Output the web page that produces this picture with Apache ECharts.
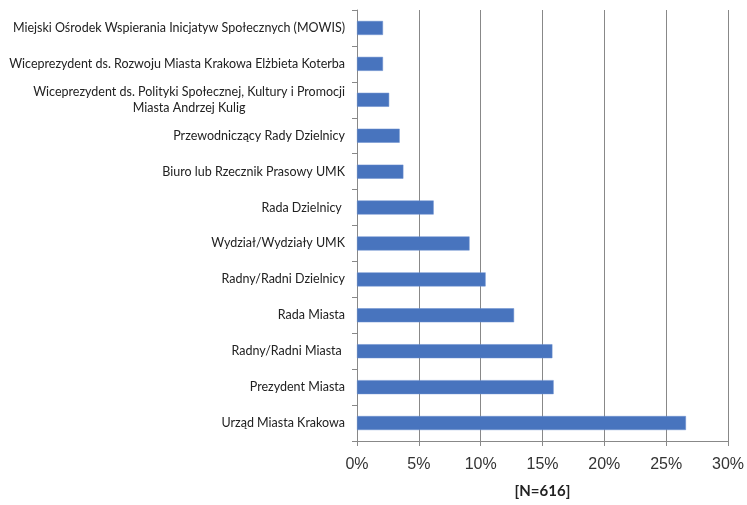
<!DOCTYPE html>
<html>
<head>
<meta charset="utf-8">
<script src="https://cdn.jsdelivr.net/npm/echarts@6/dist/echarts.min.js"></script>
<style>html,body{margin:0;padding:0;background:#fff}#c{width:747px;height:505px}</style>
</head>
<body>
<div id="c"></div>
<script>
var categories = [
  'Miejski Ośrodek Wspierania Inicjatyw Społecznych (MOWIS)',
  'Wiceprezydent ds. Rozwoju Miasta Krakowa Elżbieta Koterba',
  'Wiceprezydent ds. Polityki Społecznej, Kultury i Promocji\nMiasta Andrzej Kulig',
  'Przewodniczący Rady Dzielnicy',
  'Biuro lub Rzecznik Prasowy UMK',
  'Rada Dzielnicy ',
  'Wydział/Wydziały UMK',
  'Radny/Radni Dzielnicy',
  'Rada Miasta',
  'Radny/Radni Miasta ',
  'Prezydent Miasta',
  'Urząd Miasta Krakowa'
];
var values = [2.1, 2.1, 2.6, 3.45, 3.75, 6.2, 9.1, 10.4, 12.7, 15.8, 15.9, 26.6];
var axisName = '[N=616]';

var chart = echarts.init(document.getElementById('c'));
chart.setOption({
  animation: false,
  grid: {left: 357, right: 19, top: 10, bottom: 64, containLabel: false},
  xAxis: {
    type: 'value', min: 0, max: 30, interval: 5,
    name: axisName, nameLocation: 'middle', nameGap: 43,
    nameTextStyle: {fontFamily: 'Lato', fontWeight: 'bold', fontSize: 15, color: '#222'},
    axisLine: {show: true, lineStyle: {color: '#888', width: 1}},
    axisTick: {show: true, length: 5, lineStyle: {color: '#888'}},
    axisLabel: {formatter: '{value}%', fontFamily: 'Liberation Sans', fontSize: 16, color: '#333', margin: 16},
    splitLine: {show: true, lineStyle: {color: '#888', width: 1}}
  },
  yAxis: {
    type: 'category', data: categories, inverse: true,
    axisLine: {show: true, lineStyle: {color: '#888', width: 1}},
    axisTick: {show: true, length: 5, lineStyle: {color: '#888'}},
    axisLabel: {
      margin: 12, fontFamily: 'Lato', fontSize: 12.5, color: '#222', lineHeight: 16,
      formatter: function (v) {
        return v.split('\n').map(function (s) { return '{c|' + s + '}'; }).join('\n');
      },
      rich: {c: {align: 'center', fontFamily: 'Lato', fontSize: 12.5, color: '#222', lineHeight: 16}}
    },
    splitLine: {show: false}
  },
  series: [{
    type: 'bar', data: values, barWidth: 14,
    itemStyle: {color: '#4874BE', borderColor: '#6a8fce', borderWidth: 0.5}
  }]
});
</script>
</body>
</html>
